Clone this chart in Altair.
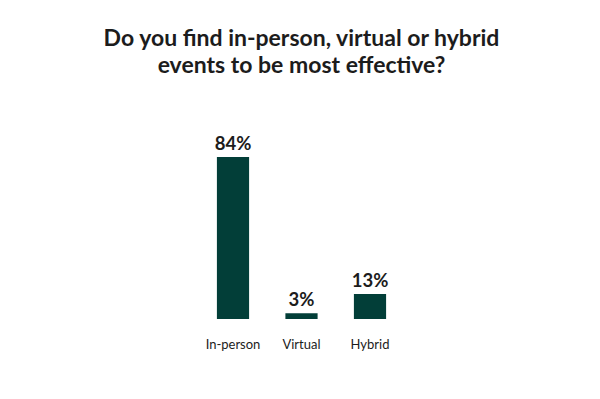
import altair as alt
import pandas as pd

categories = ["In-person", "Virtual", "Hybrid"]
values = [84, 3, 13]
labels = ["84%", "3%", "13%"]

df = pd.DataFrame({"category": categories, "value": values, "label": labels})

BAR = "#023e38"
TXT = "#1c1c1c"

x = alt.X(
    "category:N",
    sort=categories,
    scale=alt.Scale(paddingInner=0.53, paddingOuter=0.265),
    axis=alt.Axis(
        title=None, domain=False, ticks=False, tickSize=0, labelAngle=0,
        labelFont="Lato", labelFontSize=13, labelColor=TXT, labelPadding=19,
        grid=False,
    ),
)
y = alt.Y("value:Q", scale=alt.Scale(domain=[0, 84], nice=False), axis=None)

bars = alt.Chart(df).mark_bar(color=BAR).encode(x=x, y=y)
text = alt.Chart(df).mark_text(
    font="Lato", fontSize=18.5, fontWeight="bold", color=TXT, dy=-7, baseline="alphabetic"
).encode(x=x, y=y, text="label:N")

chart = (
    alt.layer(bars, text)
    .properties(
        width=205.5,
        height=162,
        background="white",
        autosize=alt.AutoSizeParams(type="none"),
        padding={"left": 190.75, "right": 187.75, "top": 149, "bottom": 72},
        title=alt.TitleParams(
            text=["Do you find in-person, virtual or hybrid", "events to be most effective?"],
            font="Lato", fontSize=23, fontWeight="bold", color=TXT,
            anchor="middle", lineHeight=27.5, offset=57,
        ),
    )
    .configure_view(strokeWidth=0, stroke="transparent")
)

chart.save("out.html", embed_options={"renderer": "svg", "actions": False})
